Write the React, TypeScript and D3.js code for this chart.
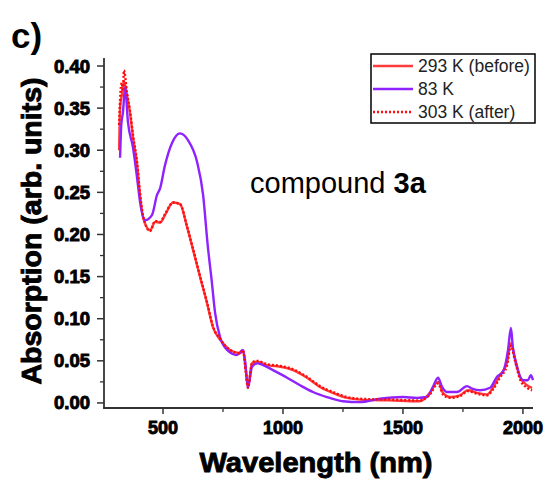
import React from "react";
import * as d3 from "d3";

const wl83 = [321,326,333,342,354,375,392,404,425,454,475,488,508,538,571,604,642,667,686,704,717,738,767,808,833,842,854,871,892,917,958,1017,1071,1125,1183,1250,1321,1404,1500,1558,1600,1625,1646,1663,1683,1725,1767,1788,1821,1863,1892,1917,1938,1950,1958,1975,2000,2021,2033,2042];
const abs83 = [0.291,0.330,0.345,0.375,0.333,0.303,0.267,0.239,0.217,0.223,0.247,0.255,0.282,0.309,0.320,0.312,0.286,0.247,0.188,0.142,0.107,0.078,0.063,0.057,0.063,0.050,0.018,0.043,0.047,0.045,0.039,0.030,0.021,0.013,0.007,0.002,0.001,0.005,0.007,0.006,0.007,0.019,0.030,0.019,0.013,0.013,0.020,0.017,0.015,0.018,0.031,0.037,0.063,0.089,0.066,0.043,0.027,0.027,0.033,0.027];

const wlRed = [317,321,328,333,337,350,362,375,392,404,417,446,467,488,508,542,571,600,625,654,683,708,738,779,821,833,845,854,871,892,933,988,1042,1100,1154,1208,1267,1321,1446,1571,1612,1646,1667,1696,1737,1771,1808,1850,1875,1904,1933,1950,1967,1988,2017,2038];
const absBefore = [0.300,0.350,0.365,0.375,0.382,0.365,0.345,0.315,0.283,0.247,0.220,0.205,0.215,0.214,0.223,0.238,0.236,0.209,0.182,0.150,0.119,0.090,0.075,0.063,0.059,0.062,0.040,0.019,0.047,0.049,0.045,0.043,0.039,0.030,0.019,0.012,0.006,0.004,0.003,0.002,0.012,0.025,0.012,0.007,0.009,0.015,0.012,0.010,0.018,0.033,0.047,0.071,0.053,0.031,0.021,0.018];
const absAfter = [0.330,0.360,0.380,0.370,0.395,0.368,0.348,0.318,0.285,0.249,0.222,0.204,0.216,0.215,0.224,0.238,0.236,0.210,0.183,0.151,0.120,0.091,0.076,0.063,0.059,0.063,0.036,0.018,0.048,0.050,0.046,0.044,0.040,0.031,0.020,0.013,0.007,0.005,0.004,0.003,0.010,0.023,0.010,0.006,0.008,0.014,0.011,0.009,0.016,0.030,0.044,0.068,0.050,0.028,0.018,0.015];

const seriesNames = ["293 K (before)", "83 K", "303 K (after)"];
const yTicks = [0, 0.05, 0.1, 0.15, 0.2, 0.25, 0.3, 0.35, 0.4];
const yMinor = [0.025, 0.075, 0.125, 0.175, 0.225, 0.275, 0.325, 0.375];
const xTicks = [500, 1000, 1500, 2000];
const xMinor = [750, 1250, 1750];

const RED = "#ff3b3b";
const PURPLE = "#8f22ff";
const DOT_RED = "#ff0a0a";

export default function App() {
  const x = d3.scaleLinear().domain([254, 2042]).range([104, 533]);
  const y = d3.scaleLinear().domain([-0.006, 0.4095]).range([408, 58]);

  const line = (wl: number[], v: number[]) =>
    d3.line<number>().x((_, i) => x(wl[i])).y((d) => y(d)).curve(d3.curveMonotoneX)(v) || "";

  const bold = { fontFamily: "'Liberation Sans', Arial, sans-serif", fontWeight: 700 } as const;

  return (
    <svg width={548} height={482} style={{ position: "absolute", left: 0, top: 0, background: "#fff" }}>
      <rect x={0} y={0} width={548} height={482} fill="#fff" />
      <text x={11} y={48} fontSize={35} {...bold} fill="#000">c)</text>

      {/* curves */}
      <path d={line(wlRed, absBefore)} fill="none" stroke={RED} strokeWidth={2.4} />
      <path d={line(wl83, abs83)} fill="none" stroke={PURPLE} strokeWidth={2.4} />
      <path d={line(wlRed, absAfter)} fill="none" stroke={DOT_RED} strokeWidth={2.4} strokeDasharray="2 2" />

      {/* axes */}
      <line x1={104} x2={104} y1={58} y2={408.8} stroke="#333" strokeWidth={1.8} />
      <line x1={103.2} x2={533} y1={408} y2={408} stroke="#333" strokeWidth={1.8} />
      {yTicks.map((t) => (
        <g key={"y" + t}>
          <line x1={97} x2={104} y1={y(t)} y2={y(t)} stroke="#333" strokeWidth={1.5} />
          <text x={90} y={y(t) + 6.5} textAnchor="end" fontSize={18} {...bold} fill="#000" stroke="#000" strokeWidth={0.9}
            textLength={36} lengthAdjust="spacingAndGlyphs">
            {t.toFixed(2)}
          </text>
        </g>
      ))}
      {yMinor.map((t) => (
        <line key={"ym" + t} x1={100} x2={104} y1={y(t)} y2={y(t)} stroke="#333" strokeWidth={1.3} />
      ))}
      {xTicks.map((t) => (
        <g key={"x" + t}>
          <line x1={x(t)} x2={x(t)} y1={408} y2={414} stroke="#333" strokeWidth={1.5} />
          <text x={x(t)} y={434} textAnchor="middle" fontSize={18} {...bold} fill="#000" stroke="#000" strokeWidth={0.9}>
            {t}
          </text>
        </g>
      ))}
      {xMinor.map((t) => (
        <line key={"xm" + t} x1={x(t)} x2={x(t)} y1={408} y2={412} stroke="#333" strokeWidth={1.3} />
      ))}

      {/* axis titles */}
      <text
        transform="translate(41,231) rotate(-90)"
        textAnchor="middle"
        fontSize={27}
        {...bold}
        fill="#000"
        stroke="#000"
        strokeWidth={0.9}
        textLength={307}
        lengthAdjust="spacingAndGlyphs"
      >
        Absorption (arb. units)
      </text>
      <text
        x={316}
        y={472}
        textAnchor="middle"
        fontSize={28}
        {...bold}
        fill="#000"
        stroke="#000"
        strokeWidth={0.9}
        textLength={233}
        lengthAdjust="spacingAndGlyphs"
      >
        Wavelength (nm)
      </text>

      {/* annotation */}
      <text x={250} y={193} fontSize={29} fontFamily="'Liberation Sans', Arial, sans-serif" fill="#000">
        compound <tspan fontWeight={700}>3a</tspan>
      </text>

      {/* legend */}
      <rect x={371} y={54} width={164} height={69} fill="#fff" stroke="#000" strokeWidth={1.5} />
      {seriesNames.map((name, i) => {
        const ly = 66 + i * 23;
        const color = i === 1 ? PURPLE : i === 0 ? RED : DOT_RED;
        return (
          <g key={name}>
            <line x1={373} x2={413} y1={ly} y2={ly} stroke={color} strokeWidth={2.4} strokeDasharray={i === 2 ? "2 2" : undefined} />
            <text x={418} y={ly + 6} fontSize={17.5} fontFamily="'Liberation Sans', Arial, sans-serif" fill="#222">
              {name}
            </text>
          </g>
        );
      })}
    </svg>
  );
}
